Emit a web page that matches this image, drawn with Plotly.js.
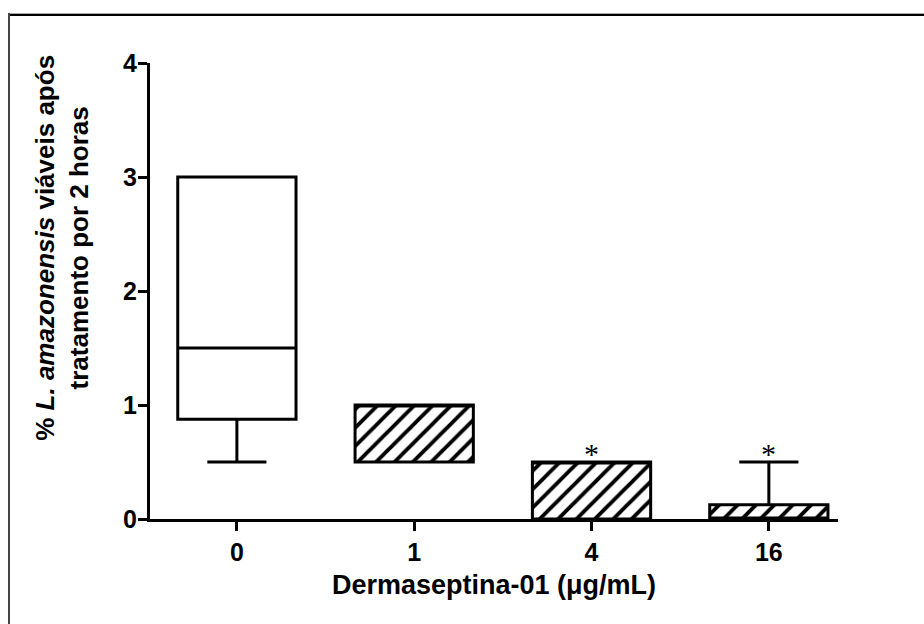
<!DOCTYPE html>
<html>
<head>
<meta charset="utf-8">
<script src="https://cdn.plot.ly/plotly-3.0.1.min.js"></script>
<style>
html,body{margin:0;padding:0;background:#fff;}
#wrap{position:relative;width:924px;height:624px;}
#chart{width:924px;height:624px;}
.fr-top{position:absolute;left:8px;top:13px;width:916px;height:2px;background:#000;border-top:1px solid #aaa;}
.fr-left{position:absolute;left:8px;top:13px;width:2px;height:611px;background:#444;}
</style>
</head>
<body>
<div id="wrap">
<div id="chart"></div>
<div class="fr-top"></div>
<div class="fr-left"></div>
</div>
<script>
// Data
const categories = ['0', '1', '4', '16'];
const q1 = [0.875, 0.5, 0, 0];
const median = [1.5, 1, 0.5, 0];
const q3 = [3, 1, 0.5, 0.125];
const lowerfence = [0.5, 0.5, 0, 0];
const upperfence = [3, 1, 0.5, 0.5];
const hatched = ['', '/', '/', '/'];
const significant = [false, false, true, true];
const yTicks = [0, 1, 2, 3, 4];

const FONT = 'Liberation Sans, Arial, sans-serif';
const boxWidth = 0.667;

const bars = {
  type: 'bar',
  x: categories,
  base: q1,
  y: q3.map((v, i) => v - q1[i]),
  width: boxWidth,
  marker: {
    color: 'white',
    line: {width: 0},
    pattern: {shape: hatched, fgcolor: 'black', bgcolor: 'white', size: 13, solidity: 0.3}
  },
  hoverinfo: 'skip',
  showlegend: false
};

const boxes = {
  type: 'box',
  x: categories,
  q1: q1,
  median: median,
  q3: q3,
  lowerfence: lowerfence,
  upperfence: upperfence,
  width: boxWidth,
  whiskerwidth: 0.5,
  boxpoints: false,
  fillcolor: 'rgba(0,0,0,0)',
  line: {color: 'black', width: 3},
  showlegend: false
};

const annotations = [];
categories.forEach((c, i) => {
  if (significant[i]) {
    annotations.push({
      x: i, y: Math.max(q3[i], upperfence[i]), xref: 'x', yref: 'y',
      text: '*', showarrow: false, yanchor: 'bottom', yshift: -10,
      font: {family: 'Liberation Serif, Times New Roman, serif', size: 30, color: '#000'}
    });
  }
});
annotations.push({
  xref: 'paper', yref: 'paper', x: -0.127, y: 0.594,
  text: '<b>% <i>L. amazonensis</i> viáveis após<br>tratamento por 2 horas</b>',
  showarrow: false, textangle: -90, xanchor: 'center', yanchor: 'middle',
  font: {family: FONT, size: 26, color: '#000'}
});

const layout = {
  width: 924, height: 624,
  margin: {l: 150, r: 86, t: 63, b: 105},
  paper_bgcolor: 'white', plot_bgcolor: 'white',
  showlegend: false,
  barmode: 'overlay',
  boxmode: 'overlay',
  font: {family: FONT, color: '#000'},
  xaxis: {
    type: 'category',
    range: [-0.49, 3.39],
    showgrid: false, zeroline: false,
    showline: true, linecolor: 'black', linewidth: 3,
    ticks: 'outside', ticklen: 9, tickwidth: 3, tickcolor: 'black',
    tickfont: {family: FONT, size: 25, color: '#000', weight: 'bold'},
    title: {text: '<b>Dermaseptina-01 (μg/mL)</b>', font: {family: FONT, size: 27, color: '#000'}, standoff: 11}
  },
  yaxis: {
    range: [0, 4],
    tickvals: yTicks,
    showgrid: false, zeroline: false,
    showline: true, linecolor: 'black', linewidth: 3,
    ticks: 'outside', ticklen: 9, tickwidth: 3, tickcolor: 'black',
    ticklabelstandoff: -4,
    tickfont: {family: FONT, size: 25, color: '#000', weight: 'bold'}
  },
  annotations: annotations
};

Plotly.newPlot('chart', [bars, boxes], layout, {displayModeBar: false, staticPlot: true});
</script>
</body>
</html>
